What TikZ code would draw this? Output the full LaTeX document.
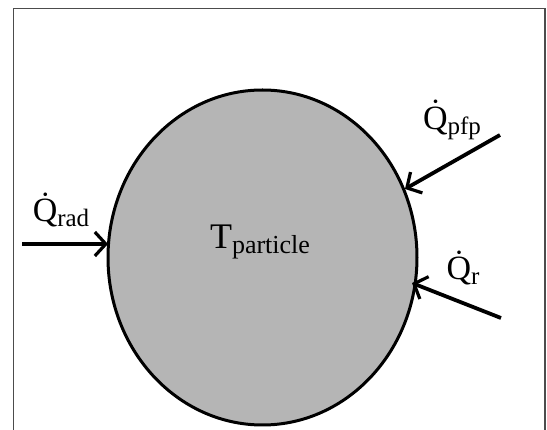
\documentclass[tikz,border=0pt]{standalone}
\usepackage{fontspec}
\setmainfont{Liberation Serif}
\newfontfamily\tms{Liberation Serif}
\usetikzlibrary{arrows.meta,shapes.geometric}
\newcommand{\lbl}[2]{\tms\fontsize{34}{38}\selectfont\.{#1}\raisebox{-0.3ex}{\fontsize{25}{26}\selectfont #2}}
\begin{document}
\begin{tikzpicture}[x=1pt,y=-1pt,
  flow/.style={line width=3.8pt,-{Straight Barb[length=11pt,width=24pt,line width=3.2pt]}},
  frameline/.style={draw=black!70,line width=1.5pt}]
\useasboundingbox (0,0) rectangle (547,430);
\draw[frameline] (13.5,432) -- (13.5,8.5) -- (545,8.5) -- (545,432);
\node[ellipse,draw,line width=3pt,fill=black!29,minimum width=309pt,minimum height=335pt,inner sep=0pt] (p) at (262.5,257.5) {};
\node (t) at (260,242) {\tms\fontsize{36}{40}\selectfont T\raisebox{-0.35ex}{\fontsize{26}{28}\selectfont particle}};
\coordinate (s1) at (22,244);
\coordinate (s2) at (500,135);
\coordinate (s3) at (501,318);
\coordinate (e1) at (108,244);
\coordinate (e2) at (405,189);
\coordinate (e3) at (412,283);
\draw[flow] (s1) -- (e1);
\draw[flow] (s2) -- (e2);
\draw[flow] (s3) -- (e3);
\node (q1) at (61,210) {\lbl{Q}{rad}};
\node (q2) at (452,120) {\lbl{Q}{pfp}};
\node (q3) at (463,268) {\lbl{Q}{r}};
\end{tikzpicture}
\end{document}
